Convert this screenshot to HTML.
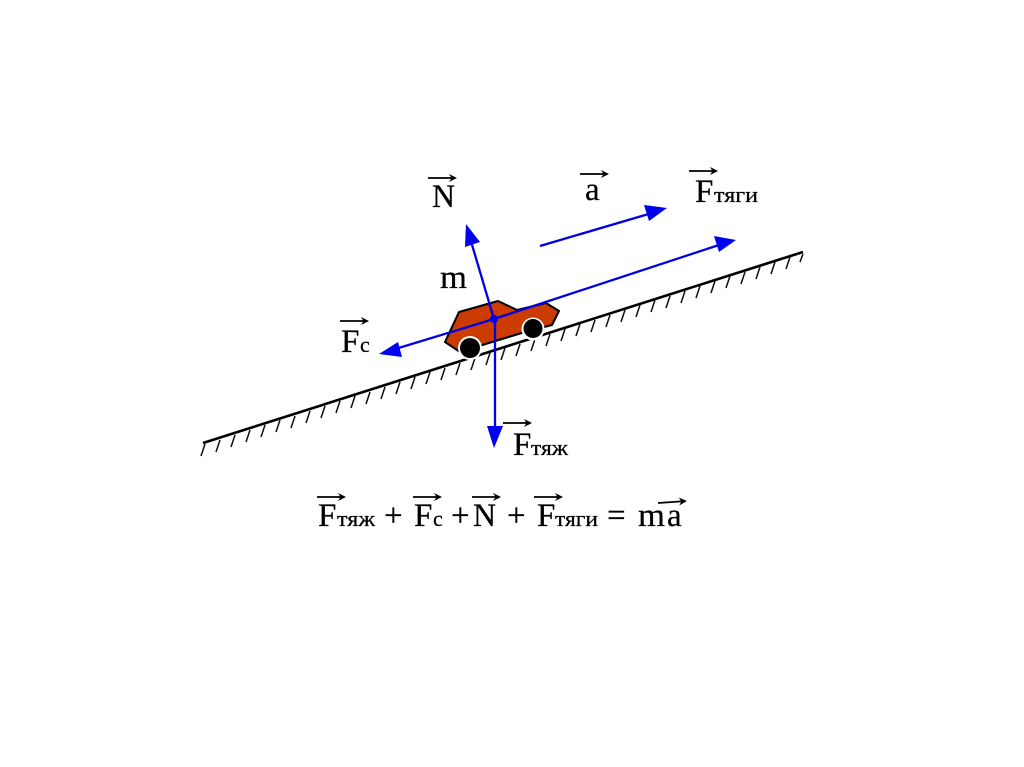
<!DOCTYPE html>
<html>
<head>
<meta charset="utf-8">
<style>
html,body{margin:0;padding:0;background:#fff;width:1024px;height:767px;overflow:hidden}
svg{display:block}
text{font-family:"Liberation Serif","DejaVu Serif",serif;fill:#000;stroke:#000;stroke-width:.25px}
.b{font-size:33px}
.s{font-size:22px}
</style>
</head>
<body>
<svg width="1024" height="767" viewBox="0 0 1024 767" xmlns="http://www.w3.org/2000/svg">
<defs>
<filter id="soft" x="-5%" y="-5%" width="110%" height="110%"><feGaussianBlur stdDeviation="0.3"/></filter>
<g id="vec"><path d="M0 0H27" stroke="#000" stroke-width="1.8"/><path d="M21 -4L29 0L21 4L23.500 0Z" fill="#000"/></g>
</defs>
<g filter="url(#soft)">
<!-- ground -->
<path d="M203 443L803 252" stroke="#000" stroke-width="2.6" fill="none"/>
<path stroke="#111" stroke-width="1.5" fill="none" d="M205 444l-4 12M220 440l-4 12M235 435l-4 12M250 430l-4 12M265 425l-4 12M280 420l-4 12M295 416l-4 12M310 411l-4 12M325 406l-4 12M340 401l-4 12M355 396l-4 12M370 392l-4 12M385 387l-4 12M400 382l-4 12M415 377l-4 12M430 372l-4 12M445 368l-4 12M460 363l-4 12M475 358l-4 12M490 353l-4 12M505 348l-4 12M520 344l-4 12M535 339l-4 12M550 334l-4 12M565 329l-4 12M580 324l-4 12M595 320l-4 12M610 315l-4 12M625 310l-4 12M640 305l-4 12M655 300l-4 12M670 296l-4 12M685 291l-4 12M700 286l-4 12M715 281l-4 12M730 276l-4 12M745 272l-4 12M760 267l-4 12M775 262l-4 12M790 257l-4 12M803 254l-3 8"/>
<!-- car -->
<path d="M445 342L459 312L498 301L517 310L546 303L559 311L552 325L525 332L479 346L460 352Z" fill="#cc3a06" stroke="#000" stroke-width="2" stroke-linejoin="round"/>
<circle cx="470" cy="348" r="12" fill="#fff"/>
<circle cx="533" cy="329" r="11.500" fill="#fff"/>
<circle cx="470" cy="348" r="10" fill="#000"/>
<circle cx="533" cy="328.500" r="9.500" fill="#000"/>
<!-- vectors -->
<g stroke="#0000e6" stroke-width="2.3" fill="none">
<path d="M494 319L470 238"/>
<path d="M494 319L392 350"/>
<path d="M494 319L722 244"/>
<path d="M495 319V432"/>
<path d="M540 246L652 213"/>
</g>
<g fill="#0000f0">
<path d="M466 224L480 242L465 247Z"/>
<path d="M379 354L398 342L402 357Z"/>
<path d="M736 240L719 252L714 236Z"/>
<path d="M494 448L487 426H503Z"/>
<path d="M667 208L649 221L644 205Z"/>
<circle cx="494" cy="319" r="4"/>
</g>
<!-- labels -->
<text class="b" x="432" y="207" textLength="23" lengthAdjust="spacingAndGlyphs">N</text><use href="#vec" x="428" y="178"/>
<text class="b" x="440" y="288" textLength="27" lengthAdjust="spacingAndGlyphs">m</text>
<text class="b" x="341" y="352">F</text><text class="s" x="360" y="352">с</text><use href="#vec" x="340" y="321"/>
<text class="b" x="585" y="200">a</text><use href="#vec" x="580" y="174"/>
<text class="b" x="695" y="202">F</text><text class="s" x="714" y="202" textLength="44" lengthAdjust="spacingAndGlyphs">тяги</text><use href="#vec" x="689" y="171"/>
<text class="b" x="513" y="455">F</text><text class="s" x="531" y="455" textLength="37" lengthAdjust="spacingAndGlyphs">тяж</text><use href="#vec" x="503" y="423"/>
<!-- equation -->
<text class="b" x="318" y="526">F</text><text class="s" x="337" y="526" textLength="38" lengthAdjust="spacingAndGlyphs">тяж</text><use href="#vec" x="317" y="497"/>
<text class="b" x="384" y="526">+</text>
<text class="b" x="414" y="526">F</text><text class="s" x="433" y="526">с</text><use href="#vec" x="413" y="497"/>
<text class="b" x="451" y="526">+</text>
<text class="b" x="473" y="526" textLength="23" lengthAdjust="spacingAndGlyphs">N</text><use href="#vec" x="472" y="497"/>
<text class="b" x="507" y="526">+</text>
<text class="b" x="537" y="526">F</text><text class="s" x="555" y="526" textLength="43" lengthAdjust="spacingAndGlyphs">тяги</text><use href="#vec" x="534" y="497"/>
<text class="b" x="607" y="526">=</text>
<text class="b" x="638" y="526" textLength="27" lengthAdjust="spacingAndGlyphs">m</text>
<text class="b" x="667" y="526">a</text>
<g transform="translate(658 503) rotate(-4)"><use href="#vec"/></g>
</g>
</svg>
</body>
</html>
